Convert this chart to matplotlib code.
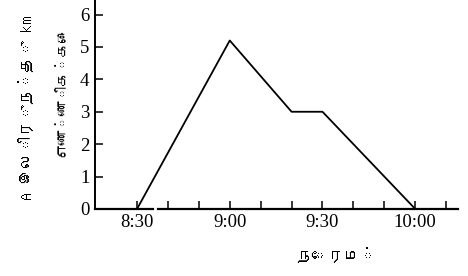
import matplotlib
matplotlib.use('Agg')
import matplotlib.pyplot as plt
from matplotlib import font_manager
from matplotlib.ft2font import FT2Font

# data: minutes after 8:00 and distance from A (km)
times = [30, 60, 80, 90, 120]
distance = [0, 5.2, 3, 3, 0]

y_ticks = [0, 1, 2, 3, 4, 5, 6]
x_ticks = [30, 40, 50, 60, 70, 80, 90, 100, 110, 120, 130]
x_labels = ['8:30', '', '', '9:00', '', '', '9:30', '', '', '10:00', '']

ylabel_line1 = 'A இலிருந்து km'
ylabel_line2 = 'எண்ணிக்கை'
xlabel = 'நேரம்'


def find_tamil_font():
    """Tamil glyph (இ) 있는 폰트 찾기"""
    for path in font_manager.findSystemFonts():
        try:
            if 0x0B87 in FT2Font(path).get_charmap():
                return font_manager.FontProperties(fname=path).get_name()
        except Exception:
            continue
    return None


tamil = find_tamil_font()
tamil_family = [tamil, 'DejaVu Sans'] if tamil else ['DejaVu Sans']
serif = 'Liberation Serif'

fig = plt.figure(figsize=(4.68, 2.76), dpi=100)
ax = fig.add_axes([0.203, 0.243, 0.776, 0.757])

ax.plot(times, distance, color='black', linewidth=1.3)

ax.set_xlim(16.4, 133.9)
ax.set_ylim(0, 6.45)

# broken x-axis as in the original
for s in ['top', 'right', 'bottom']:
    ax.spines[s].set_visible(False)
ax.spines['left'].set_linewidth(1.4)
gap_start, gap_end = 35.2, 36.8
x0, x1 = ax.get_xlim()
ax.axhline(0, xmin=0, xmax=(gap_start - x0) / (x1 - x0), color='black', linewidth=1.6, clip_on=False)
ax.axhline(0, xmin=(gap_end - x0) / (x1 - x0), xmax=1, color='black', linewidth=1.6, clip_on=False)

ax.set_yticks(y_ticks)
ax.set_yticklabels([str(v) for v in y_ticks], fontfamily=serif, fontsize=13.5)
ax.set_xticks(x_ticks)
ax.set_xticklabels(x_labels, fontfamily=serif, fontsize=13.5)
ax.tick_params(axis='both', direction='in', length=6, width=1.1, color='black')
ax.tick_params(axis='y', pad=4)
ax.tick_params(axis='x', pad=4)

fig.text(0.055, 0.61, ylabel_line1, rotation=90, ha='center', va='center',
         fontsize=11.5, fontweight='bold', family=tamil_family)
fig.text(0.133, 0.67, ylabel_line2, rotation=90, ha='center', va='center',
         fontsize=10.5, fontweight='bold', family=tamil_family)
fig.text(0.718, 0.075, xlabel, ha='center', va='center',
         fontsize=11.5, fontweight='bold', family=tamil_family)

fig.savefig('out.png', dpi=100)
